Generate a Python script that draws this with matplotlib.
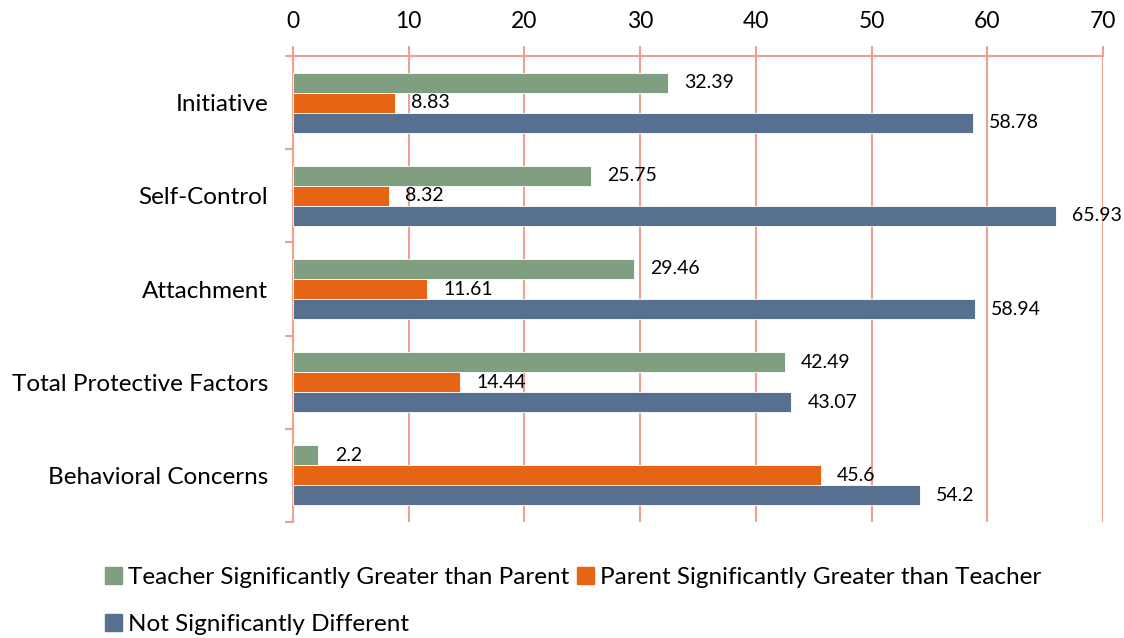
import numpy as np
import matplotlib.pyplot as plt
from matplotlib.patches import Patch

plt.rcParams['font.family'] = ['Lato', 'DejaVu Sans']

# Data
categories = ['Initiative', 'Self-Control', 'Attachment',
              'Total Protective Factors', 'Behavioral Concerns']
teacher_gt = [32.39, 25.75, 29.46, 42.49, 2.2]
parent_gt = [8.83, 8.32, 11.61, 14.44, 45.6]
not_diff = [58.78, 65.93, 58.94, 43.07, 54.2]
series_names = ['Teacher Significantly Greater than Parent',
                'Parent Significantly Greater than Teacher',
                'Not Significantly Different']
xticks = [0, 10, 20, 30, 40, 50, 60, 70]

colors = ['#7F9F80', '#E66414', '#58708F']
grid_c = '#EFA08E'

fig = plt.figure(figsize=(11.24, 6.38), dpi=100)
ax = fig.add_axes([0.2607, 0.1818, 0.7206, 0.7304])

y = np.arange(len(categories))
h = 0.215
for i, (vals, c) in enumerate(zip([teacher_gt, parent_gt, not_diff], colors)):
    pos = y + (i - 1) * h
    ax.barh(pos, vals, height=h, color=c, edgecolor='white', linewidth=0.6, zorder=3)
    for p, v in zip(pos, vals):
        ax.text(v + 1.4, p, f'{v:g}', va='center', ha='left', fontsize=14, zorder=4)

ax.set_xlim(0, 70)
ax.set_ylim(len(categories) - 0.5, -0.5)
ax.xaxis.tick_top()
ax.set_xticks(xticks)
ax.tick_params(axis='x', direction='out', length=7, width=1.5, color=grid_c,
               labelsize=16.5, pad=10)
ax.grid(axis='x', color=grid_c, linewidth=1.5, zorder=0)

# category boundary ticks on the left, labels at centres
ax.set_yticks(np.arange(-0.5, len(categories)), labels=[''] * (len(categories) + 1))
ax.tick_params(axis='y', which='major', direction='out', length=6, width=1.5, color=grid_c)
ax.set_yticks(y, labels=categories, minor=True)
ax.tick_params(axis='y', which='minor', length=0, labelsize=17.5, pad=18)

for s in ['bottom', 'right']:
    ax.spines[s].set_visible(False)
for s in ['top', 'left']:
    ax.spines[s].set_color(grid_c)
    ax.spines[s].set_linewidth(1.5)

# legend fills column by column, so order items to get the reference rows
order = [0, 2, 1]
handles = [Patch(color=colors[k]) for k in order]
labels = [series_names[k] for k in order]
fig.legend(handles, labels, loc='lower left', bbox_to_anchor=(0.074, -0.03),
           ncol=2, frameon=False, fontsize=17.5, handlelength=0.7, handleheight=0.7,
           handletextpad=0.25, columnspacing=0.3, labelspacing=1.08)

fig.savefig('out.png', dpi=100)
